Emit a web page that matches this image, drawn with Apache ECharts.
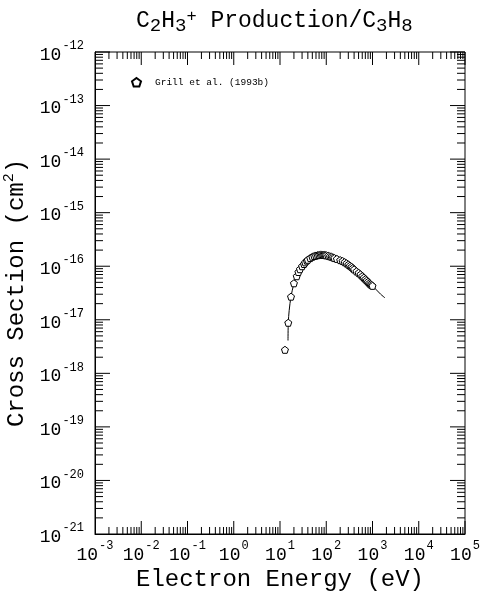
<!DOCTYPE html>
<html>
<head>
<meta charset="utf-8">
<script src="https://cdn.jsdelivr.net/npm/echarts@6/dist/echarts.min.js"></script>
<style>html,body{margin:0;padding:0;background:#fff;}#c{width:481px;height:600px;}</style>
</head>
<body>
<div id="c"></div>
<script>
// Grill et al. (1993b) measured points
var grillEnergy = [12.8, 15.1, 17.3, 20, 23, 25, 27, 30, 33, 35, 38, 40, 45, 50, 55, 60, 65, 70, 75, 80, 85, 90, 95, 100, 110, 120, 130, 140, 150, 170, 200, 225, 250, 275, 300, 325, 350, 375, 400, 450, 500, 550, 600, 650, 700, 750, 800, 850, 900, 950, 1000];
var grillSigma = [2.75e-18, 8.8e-18, 2.7e-17, 4.8e-17, 6.5e-17, 7.8e-17, 8.8e-17, 1.0e-16, 1.1e-16, 1.18e-16, 1.27e-16, 1.32e-16, 1.42e-16, 1.5e-16, 1.55e-16, 1.58e-16, 1.61e-16, 1.62e-16, 1.63e-16, 1.63e-16, 1.62e-16, 1.62e-16, 1.61e-16, 1.6e-16, 1.57e-16, 1.53e-16, 1.5e-16, 1.46e-16, 1.42e-16, 1.37e-16, 1.3e-16, 1.25e-16, 1.19e-16, 1.13e-16, 1.07e-16, 1.02e-16, 9.7e-17, 9.2e-17, 8.7e-17, 8.0e-17, 7.5e-17, 7.0e-17, 6.5e-17, 6.1e-17, 5.7e-17, 5.4e-17, 5.1e-17, 4.8e-17, 4.6e-17, 4.45e-17, 4.3e-17];
// recommended curve
var fitEnergy = [14.9, 15.1, 15.8, 17.3, 20, 25, 30, 40, 50, 60, 75, 90, 100, 150, 200, 300, 500, 700, 1000, 1500, 1860];
var fitSigma = [4.1e-18, 8.8e-18, 1.5e-17, 2.7e-17, 4.7e-17, 7.8e-17, 1.0e-16, 1.33e-16, 1.5e-16, 1.59e-16, 1.63e-16, 1.62e-16, 1.6e-16, 1.42e-16, 1.3e-16, 1.07e-16, 7.5e-17, 5.7e-17, 4.3e-17, 3.0e-17, 2.57e-17];
// axis ranges (decade exponents)
var xExpMin = -3, xExpMax = 5;
var yExpMin = -21, yExpMax = -12;

var FONT = 'Liberation Mono';
var pent = 'path://M0,-10 L9.5,-3.1 L5.9,8.1 L-5.9,8.1 L-9.5,-3.1 Z';

function pairs(a, b) { var r = []; for (var i = 0; i < a.length; i++) r.push([a[i], b[i]]); return r; }

function tickList(e0, e1) {
  var out = [];
  for (var e = e0; e < e1; e++) {
    for (var d = 1; d <= 9; d++) {
      if (d === 1 && e === e0) continue;
      out.push({ v: d * Math.pow(10, e), major: d === 1 });
    }
  }
  out.push({ v: Math.pow(10, e1), major: true });
  return out;
}
var xTicks = tickList(xExpMin, xExpMax);
var yTicks = tickList(yExpMin, yExpMax);
var X0 = Math.pow(10, xExpMin), X1 = Math.pow(10, xExpMax);
var Y0 = Math.pow(10, yExpMin), Y1 = Math.pow(10, yExpMax);

var tickData = [];
xTicks.forEach(function (t) { tickData.push([t.v, Y0, 0, t.major ? 1 : 0]); });
yTicks.forEach(function (t) { tickData.push([X0, t.v, 1, t.major ? 1 : 0]); });

function labelFmt(v) {
  var l = Math.log10(v);
  var e = Math.round(l);
  if (Math.abs(l - e) > 1e-7) return '';
  return '{b|10}{s|' + e + '}';
}
var richLab = {
  b: { fontFamily: FONT, fontSize: 18, color: '#000', lineHeight: 24, verticalAlign: 'bottom' },
  s: { fontFamily: FONT, fontSize: 12, color: '#000', lineHeight: 24, verticalAlign: 'top', padding: [0, 0, 0, 1] }
};

var chart = echarts.init(document.getElementById('c'));
chart.setOption({
  backgroundColor: '#fff',
  animation: false,
  title: {
    text: '{t|C}{d|2}{t|H}{d|3}{u|+}{t| Production/C}{d|3}{t|H}{d|8}',
    left: 131, top: 1,
    textStyle: {
      fontWeight: 'normal',
      rich: {
        t: { fontFamily: FONT, fontSize: 23, fontWeight: 'normal', color: '#000', lineHeight: 30 },
        d: { fontFamily: FONT, fontSize: 19, fontWeight: 'normal', color: '#000', lineHeight: 30, verticalAlign: 'bottom', padding: [0, 0, 1, 0] },
        u: { fontFamily: FONT, fontSize: 17, fontWeight: 'normal', color: '#000', lineHeight: 30, verticalAlign: 'top', padding: [2, 0, 0, 0] }
      }
    }
  },
  legend: {
    left: 126, top: 72,
    data: [{ name: 'Grill et al. (1993b)', icon: pent }],
    itemWidth: 9, itemHeight: 9, itemGap: 5,
    textStyle: { fontFamily: FONT, fontSize: 9.5, color: '#000', padding: [0, 0, 0, 9] }
  },
  grid: { left: 95, right: 16, top: 52, bottom: 66, containLabel: false, outerBoundsMode: 'none', show: true, borderColor: '#000', borderWidth: 1, backgroundColor: 'transparent' },
  xAxis: {
    type: 'log', logBase: 10, min: X0, max: X1, splitNumber: 8,
    axisLine: { show: true, lineStyle: { color: '#000', width: 1 } },
    axisTick: { show: false }, splitLine: { show: false },
    axisLabel: { formatter: labelFmt, rich: richLab, margin: 6, showMinLabel: true, showMaxLabel: true, hideOverlap: false },
    name: 'Electron Energy (eV)', nameLocation: 'middle', nameGap: 34, nameMoveOverlap: false,
    nameTextStyle: { fontFamily: FONT, fontSize: 24, color: '#000' }
  },
  yAxis: {
    type: 'log', logBase: 10, min: Y0 * 0.99999, max: Y1, splitNumber: 9,
    axisLine: { show: true, lineStyle: { color: '#000', width: 1 } },
    axisTick: { show: false }, splitLine: { show: false },
    axisLabel: { formatter: labelFmt, rich: richLab, margin: 11, showMinLabel: true, showMaxLabel: true, hideOverlap: false },
    name: 'Cross Section (cm{s|2})', nameLocation: 'middle', nameGap: 63, nameMoveOverlap: false,
    nameTextStyle: {
      fontFamily: FONT, fontSize: 24, color: '#000',
      rich: { s: { fontFamily: FONT, fontSize: 15, color: '#000', verticalAlign: 'top', lineHeight: 30 } }
    }
  },
  series: [
    {
      type: 'custom', silent: true, z: 5,
      data: tickData,
      renderItem: function (params, api) {
        var v0 = api.value(0), v1 = api.value(1), axis = api.value(2), major = api.value(3);
        var lines = [];
        if (axis === 0) {
          var len = major ? 13 : 7;
          var pb = api.coord([v0, Y0]);
          var pt = api.coord([v0, Y1]);
          lines.push([pb[0], pb[1], pb[0], pb[1] - len]);
          lines.push([pt[0], pt[1], pt[0], pt[1] + len]);
        } else {
          var len2 = major ? 15 : 8;
          var pl = api.coord([X0, v1]);
          var pr = api.coord([X1, v1]);
          lines.push([pl[0], pl[1], pl[0] + len2, pl[1]]);
          lines.push([pr[0], pr[1], pr[0] - len2, pr[1]]);
        }
        return {
          type: 'group',
          children: lines.map(function (l) {
            return { type: 'line', shape: { x1: l[0], y1: l[1], x2: l[2], y2: l[3] }, style: { stroke: '#000', lineWidth: 1 } };
          })
        };
      }
    },
    {
      type: 'line', name: 'fit', data: pairs(fitEnergy, fitSigma),
      showSymbol: false, smooth: 0.3, lineStyle: { color: '#000', width: 1 }, z: 3
    },
    {
      type: 'scatter', name: 'Grill et al. (1993b)', data: pairs(grillEnergy, grillSigma),
      symbol: pent, symbolSize: 7,
      itemStyle: { color: '#fff', borderColor: '#000', borderWidth: 1, opacity: 1 }, z: 4
    }
  ]
});
</script>
</body>
</html>
